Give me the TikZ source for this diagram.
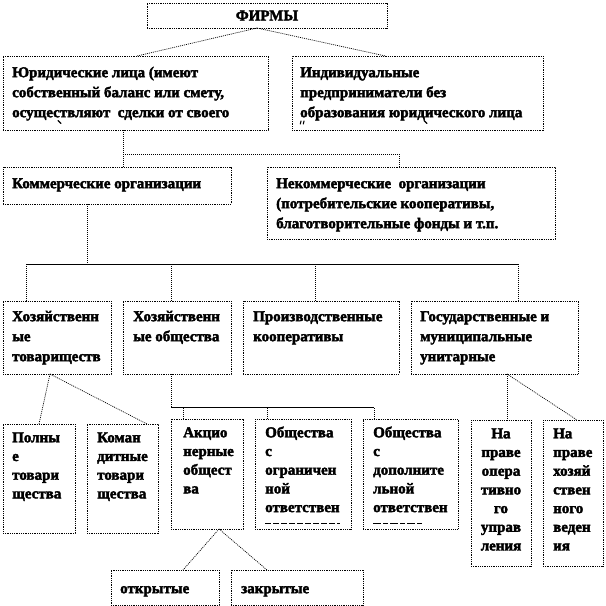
\documentclass[tikz,border=0pt]{standalone}
\usepackage{fontspec}
\setmainfont{Liberation Serif}
\newfontfamily\heavy{Liberation Serif Bold}[FakeBold=2.5]
\begin{document}
\begin{tikzpicture}[x=1pt,y=-1pt,
  box/.style={draw=black, line width=0.8pt, dash pattern=on 1pt off 0.8pt, anchor=north west, inner sep=0pt, outer sep=0pt},
  conn/.style={draw=black, line width=0.7pt, dash pattern=on 1pt off 1pt},
  hline/.style={draw=black, line width=0.8pt},
  txt/.style={font=\fontsize{15}{20}\selectfont\heavy, align=left, inner sep=0pt, anchor=north west},
  txts/.style={font=\fontsize{15}{18.7}\selectfont\heavy, align=left, inner sep=0pt, anchor=north west},
  tick/.style={line width=1.1pt, line cap=round}
]
\useasboundingbox (0,0) rectangle (606,606);
\fill[white] (0,0) rectangle (606,606);
\newcommand{\bx}[6][]{\node[box,minimum width=#5pt-#3pt,minimum height=#6pt-#4pt,#1] (#2) at (#3,#4) {};}
% boxes
\node[box,minimum width=240pt,minimum height=25pt,font=\fontsize{15}{20}\selectfont\heavy] (firms) at (147,3) {ФИРМЫ};
\bx{jur}{3}{56}{268}{130}
\bx{ind}{292}{56}{543}{130}
\bx{kom}{3}{167}{231}{204}
\bx{nekom}{267}{167}{555}{239}
\bx{htov}{3}{301}{111}{374}
\bx{hob}{123}{301}{231}{374}
\bx{proiz}{243}{301}{399}{374}
\bx{gos}{411}{301}{578}{374}
\bx{poln}{3}{424}{75}{533}
\bx{koman}{87}{424}{158}{533}
\bx{akc}{171}{419}{243}{529}
\bx{ogr}{255}{419}{351}{529}
\bx{dop}{363}{419}{458}{529}
\bx{oper}{471}{420}{531}{566}
\bx{hoz}{543}{420}{603}{566}
\bx{otkr}{111}{570}{219}{605}
\bx{zakr}{231}{570}{363}{605}
% texts
\node[txt] (jur-t) at (12,63) {\strut Юридические лица (имеют\\собственный баланс или смету,\\осуществляют\ \ сделки от своего};
\node[txt] (ind-t) at (300,63) {\strut Индивидуальные\\предприниматели без\\образования юридического лица};
\node[txt] (kom-t) at (12,174) {\strut Коммерческие организации};
\node[txt] (nekom-t) at (276,174) {\strut Некоммерческие\ \ организации\\(потребительские кооперативы,\\благотворительные фонды и т.п.};
\node[txt] (htov-t) at (12,307) {\strut Хозяйственн\\ые\\товариществ};
\node[txt] (hob-t) at (133,307) {\strut Хозяйственн\\ые общества};
\node[txt] (proiz-t) at (253,307) {\strut Производственные\\кооперативы};
\node[txt] (gos-t) at (420,307) {\strut Государственные и\\муниципальные\\унитарные};
\node[txts] (poln-t) at (12,429) {\strut Полны\\е\\товари\\щества};
\node[txts] (koman-t) at (97,429) {\strut Коман\\дитные\\товари\\щества};
\node[txts] (akc-t) at (183,424) {\strut Акцио\\нерные\\общест\\ва};
\node[txts] (ogr-t) at (265,424) {\strut Общества\\с\\ограничен\\ной\\ответствен};
\node[txts] (dop-t) at (373,424) {\strut Общества\\с\\дополните\\льной\\ответствен};
\node[txts,align=center,anchor=north] (oper-t) at (501,425) {\strut На\\праве\\опера\\тивно\\го\\управ\\ления};
\node[txts] (hoz-t) at (553,425) {\strut На\\праве\\хозяй\\ствен\\ного\\веден\\ия};
\node[txt] (otkr-t) at (120,579) {\strut открытые};
\node[txt] (zakr-t) at (241,579) {\strut закрытые};
% clipped fragments
\draw[tick] (58,120.5) -- (61,123.5);
\draw[tick] (301,121) -- (300.3,124);
\draw[tick] (304,121) -- (303.3,124);
\draw[tick] (424,120.5) -- (427,123.5);
\draw[line width=1pt, dash pattern=on 6pt off 2pt] (265,523) -- (340,523);
\draw[line width=1pt, dash pattern=on 8pt off 2pt on 5pt off 2pt] (373,523) -- (422,523);
% connectors
\draw[conn] ([xshift=-10pt]firms.south) -- ([xshift=1.5pt]jur.north);
\draw[conn] ([xshift=-10pt]firms.south) -- ([xshift=-32pt]ind.north);
\coordinate (j1) at (123,154);
\draw[conn] ([xshift=-12.5pt]jur.south) -- ([xshift=6pt]kom.north);
\draw[conn] (j1) -| ([xshift=-12pt]nekom.north);
\coordinate (k1) at (87,264);
\draw[conn] ([xshift=-30pt]kom.south) -- (k1);
\draw[hline] ([xshift=-31pt]htov.north |- k1) -- ([xshift=23.5pt]gos.north |- k1);
\draw[conn] ([xshift=-31pt]htov.north) -- ([xshift=-31pt]htov.north |- k1);
\draw[conn] ([xshift=-6pt]hob.north) -- ([xshift=-6pt]hob.north |- k1);
\draw[conn] ([xshift=-6pt]proiz.north) -- ([xshift=-6pt]proiz.north |- k1);
\draw[conn] ([xshift=23.5pt]gos.north) -- ([xshift=23.5pt]gos.north |- k1);
\coordinate (o1) at (171,407);
\draw[conn] ([xshift=-6pt]hob.south) -- (o1);
\draw[hline] (o1) -- ([xshift=-36.5pt]dop.north |- o1);
\draw[conn] ([xshift=-24pt]akc.north) -- ([xshift=-24pt]akc.north |- o1);
\draw[conn] ([xshift=-36pt]ogr.north) -- ([xshift=-36pt]ogr.north |- o1);
\draw[conn] ([xshift=-36.5pt]dop.north) -- ([xshift=-36.5pt]dop.north |- o1);
\draw[conn] ([xshift=-7pt]htov.south) -- (poln.north);
\draw[conn] ([xshift=-7pt]htov.south) -- ([xshift=24.5pt]koman.north);
\draw[conn] ([xshift=12.5pt]gos.south) -- ([xshift=6pt]oper.north);
\draw[conn] ([xshift=12.5pt]gos.south) -- ([xshift=4pt]hoz.north);
\draw[conn] ([xshift=12pt]akc.south) -- ([xshift=18pt]otkr.north);
\draw[conn] ([xshift=12pt]akc.south) -- ([xshift=-30pt]zakr.north);
\end{tikzpicture}
\end{document}
